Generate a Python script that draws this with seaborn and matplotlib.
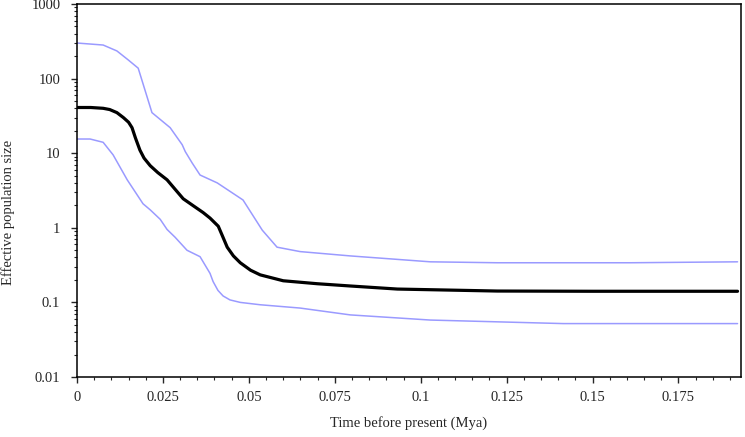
import matplotlib
matplotlib.use("Agg")
import matplotlib.pyplot as plt
import matplotlib.ticker as mticker
import seaborn as sns

# Median effective population size
median_time = [0.0, 0.004, 0.0076, 0.0095, 0.0116, 0.0135, 0.0150, 0.0160, 0.0170,
               0.0183, 0.0195, 0.0213, 0.0235, 0.0262, 0.0285, 0.0309, 0.0340,
               0.0367, 0.0387, 0.0411, 0.0422, 0.0437, 0.0455, 0.0475, 0.0505,
               0.0533, 0.060, 0.0699, 0.0795, 0.0932, 0.1223, 0.150, 0.1922]
median_ne = [41, 41, 40, 38.5, 35, 30, 26, 22, 16, 11, 8.6, 6.8, 5.5, 4.4, 3.3,
             2.45, 1.95, 1.6, 1.35, 1.05, 0.8, 0.55, 0.42, 0.34, 0.27, 0.234,
             0.195, 0.178, 0.166, 0.151, 0.142, 0.141, 0.141]

# Upper 95% HPD
upper_time = [0.0, 0.0076, 0.0116, 0.0149, 0.0178, 0.0218, 0.0271, 0.0306,
              0.0315, 0.0335, 0.0358, 0.0408, 0.0483, 0.0539, 0.0582, 0.0649,
              0.0795, 0.1028, 0.1223, 0.161, 0.1922]
upper_ne = [300, 282, 235, 178, 138, 35, 22, 13, 10.5, 7.4, 5.1, 4.0, 2.36,
            0.93, 0.55, 0.48, 0.42, 0.35, 0.34, 0.34, 0.35]

# Lower 95% HPD
lower_time = [0.0, 0.0038, 0.0076, 0.0105, 0.0146, 0.0192, 0.0213, 0.0242,
              0.0262, 0.0285, 0.0320, 0.0358, 0.0387, 0.0396, 0.0410, 0.0425,
              0.0445, 0.0475, 0.0533, 0.0649, 0.0795, 0.1028, 0.1415, 0.1922]
lower_ne = [15.5, 15.5, 14, 9.5, 4.4, 2.1, 1.74, 1.3, 0.95, 0.75, 0.5, 0.41,
            0.245, 0.19, 0.145, 0.122, 0.108, 0.10, 0.093, 0.084, 0.068, 0.058,
            0.052, 0.052]

sns.set_style("ticks")
plt.rcParams['font.family'] = ['Liberation Serif', 'DejaVu Serif']

fig, ax = plt.subplots(figsize=(7.45, 4.37), dpi=100)
fig.subplots_adjust(left=0.1034, right=0.9946, top=0.9908, bottom=0.1373)

hpd_color = '#9a9aff'
sns.lineplot(x=upper_time, y=upper_ne, ax=ax, color=hpd_color, lw=1.1)
sns.lineplot(x=lower_time, y=lower_ne, ax=ax, color=hpd_color, lw=1.1)
sns.lineplot(x=median_time, y=median_ne, ax=ax, color='black', lw=2.3)

ax.set_yscale('log')
ax.set_ylim(0.01, 1000)
ax.set_xlim(0, 0.1932)

ax.xaxis.set_major_locator(mticker.MultipleLocator(0.025))
ax.xaxis.set_minor_locator(mticker.MultipleLocator(0.005))
ax.xaxis.set_major_formatter(mticker.FuncFormatter(lambda v, p: f"{v:g}"))
ax.yaxis.set_major_locator(mticker.LogLocator(base=10, numticks=10))
ax.yaxis.set_minor_locator(mticker.LogLocator(base=10, subs=range(2, 10), numticks=10))
ax.yaxis.set_major_formatter(mticker.FuncFormatter(lambda v, p: f"{v:g}"))

for side in ['top', 'right', 'left', 'bottom']:
    ax.spines[side].set_visible(True)
    ax.spines[side].set_linewidth(1.1)
    ax.spines[side].set_color('black')

ax.tick_params(axis='both', which='major', length=4, width=1, labelsize=10.5)
ax.tick_params(axis='both', which='minor', length=2.5, width=0.8)
ax.tick_params(axis='y', which='major', pad=8)
ax.tick_params(axis='x', which='major', pad=6)
ax.tick_params(top=False, right=False, which='both')

ax.set_xlabel("Time before present (Mya)", fontsize=10.5)
ax.set_ylabel("Effective population size", fontsize=10.5)
ax.xaxis.set_label_coords(0.5, -0.105)
ax.yaxis.set_label_coords(-0.093, 0.442)

plt.savefig("out.png", dpi=100)
